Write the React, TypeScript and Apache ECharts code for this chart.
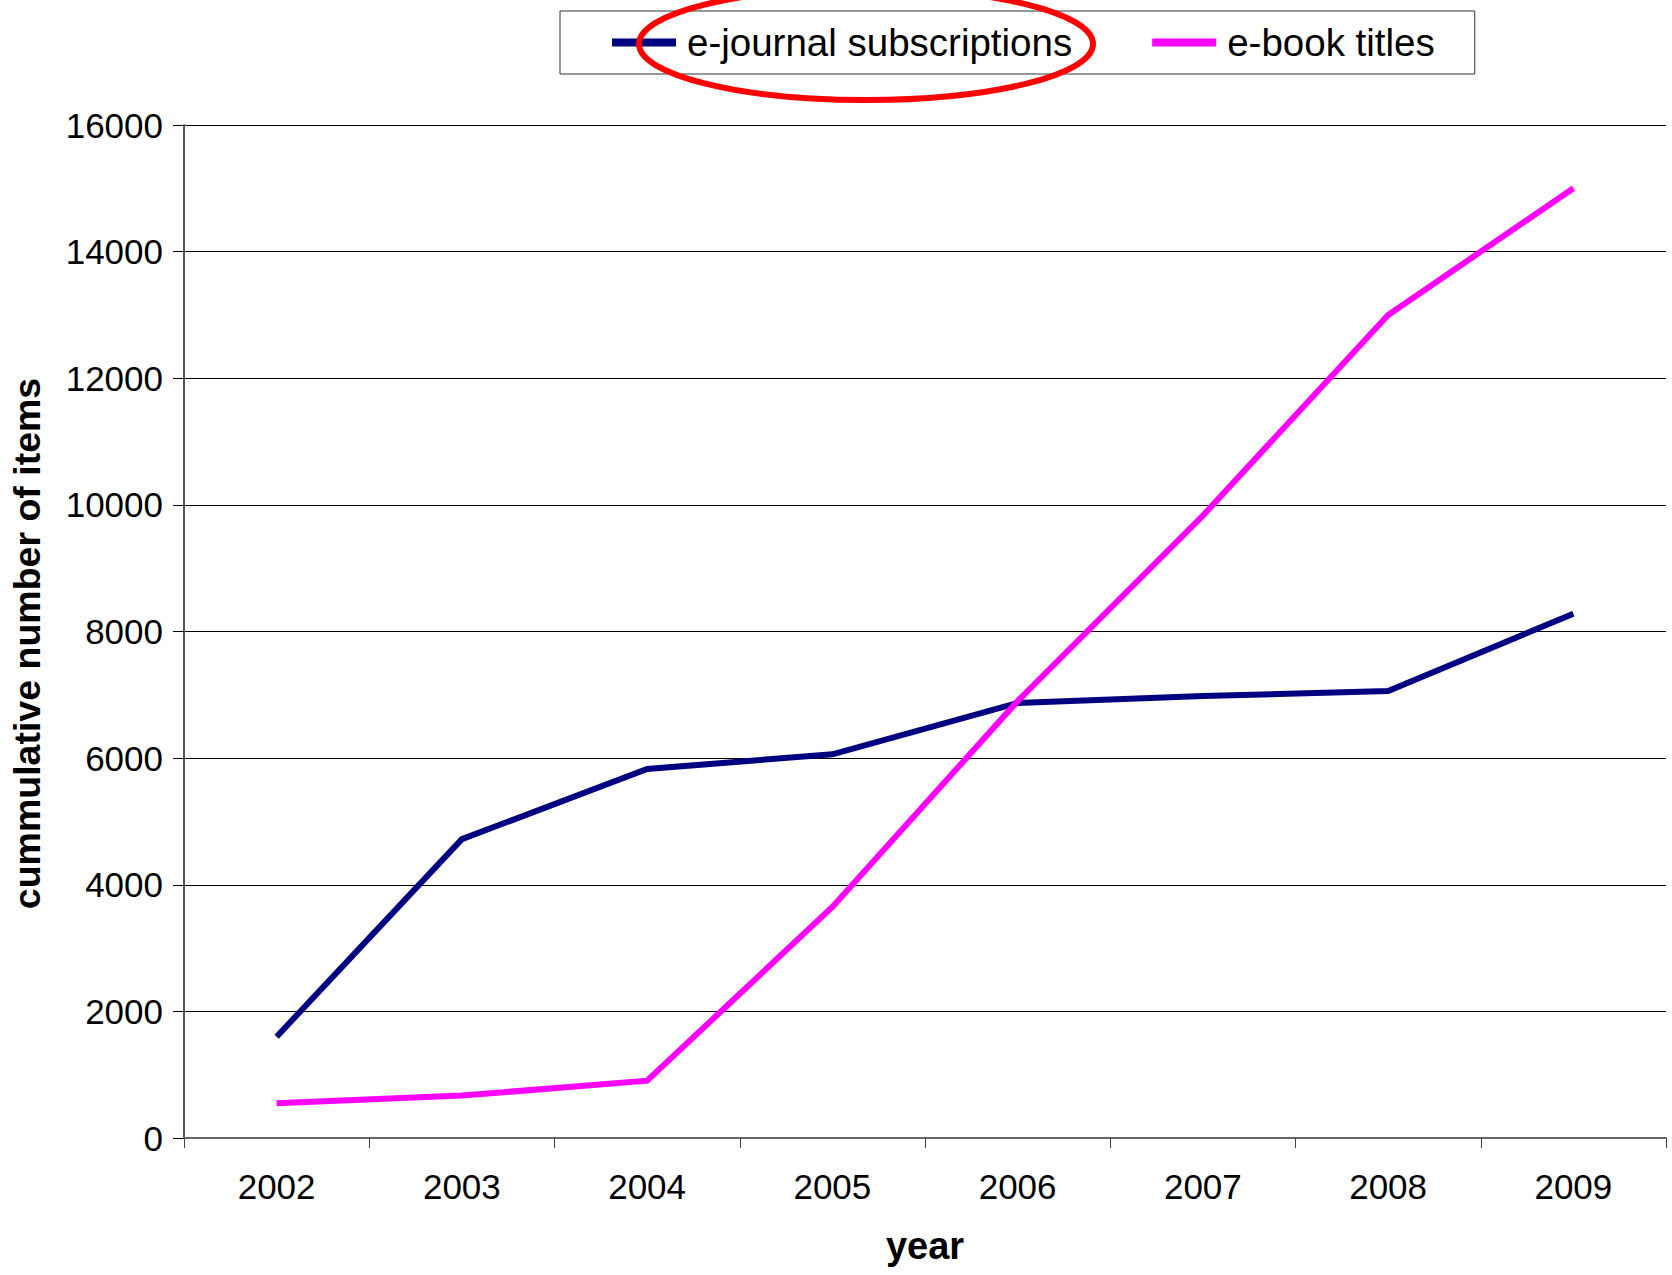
import React, { useEffect, useRef } from "react";
import * as echarts from "echarts";

const years = ["2002", "2003", "2004", "2005", "2006", "2007", "2008", "2009"];
const ejournalSubscriptions = [1600, 4720, 5830, 6060, 6870, 6980, 7060, 8280];
const ebookTitles = [550, 670, 905, 3650, 6900, 9830, 13000, 15000];
const seriesNames = ["e-journal subscriptions", "e-book titles"];
const yMin = 0;
const yMax = 16000;
const yInterval = 2000;

const FONT = "'Liberation Sans', Arial, sans-serif";

export default function App() {
  const ref = useRef<HTMLDivElement>(null);

  useEffect(() => {
    if (!ref.current) return;
    const chart = echarts.init(ref.current, undefined, { renderer: "svg" });
    chart.setOption({
      animation: false,
      backgroundColor: "#ffffff",
      textStyle: { fontFamily: FONT },
      grid: { left: 183, right: 6, top: 125, bottom: 137, containLabel: false },
      legend: {
        left: 560,
        top: 11,
        padding: [12, 40, 12, 52],
        itemGap: 80,
        itemWidth: 64,
        itemHeight: 8,
        borderColor: "#333",
        borderWidth: 1,
        textStyle: { fontSize: 38.5, color: "#000", fontFamily: FONT, padding: [0, 0, 0, 6] },
        data: [
          { name: seriesNames[0], icon: "rect", itemStyle: { color: "#000080" } },
          { name: seriesNames[1], icon: "rect", itemStyle: { color: "#ff00ff" } },
        ],
      },
      xAxis: {
        type: "category",
        data: years,
        boundaryGap: true,
        name: "year",
        nameLocation: "middle",
        nameGap: 89,
        nameTextStyle: { fontSize: 38, fontWeight: "bold", color: "#000", fontFamily: FONT },
        axisLine: { lineStyle: { color: "#666", width: 2 } },
        axisTick: { show: true, alignWithLabel: false, length: 10, lineStyle: { color: "#444", width: 1 } },
        axisLabel: { fontSize: 35, color: "#000", margin: 31, fontFamily: FONT },
        splitLine: { show: false },
      },
      yAxis: {
        type: "value",
        min: yMin,
        max: yMax,
        interval: yInterval,
        name: "cummulative number of items",
        nameLocation: "middle",
        nameRotate: 90,
        nameGap: 138,
        nameTextStyle: {
          fontSize: 37.5,
          fontWeight: "bold",
          color: "#000",
          fontFamily: FONT,
          padding: [0, 24, 0, 0],
        },
        axisLine: { show: true, lineStyle: { color: "#555", width: 2 } },
        axisTick: { show: true, length: 11, lineStyle: { color: "#000", width: 1 } },
        axisLabel: {
          fontSize: 35,
          color: "#000",
          margin: 21,
          fontFamily: FONT,
          formatter: (v: number) => String(v),
        },
        splitLine: { show: true, lineStyle: { color: "#000", width: 1 } },
      },
      series: [
        {
          name: seriesNames[0],
          type: "line",
          data: ejournalSubscriptions,
          showSymbol: false,
          symbol: "none",
          lineStyle: { color: "#000080", width: 6, join: "miter" },
          itemStyle: { color: "#000080" },
          z: 3,
        },
        {
          name: seriesNames[1],
          type: "line",
          data: ebookTitles,
          showSymbol: false,
          symbol: "none",
          lineStyle: { color: "#ff00ff", width: 6, join: "miter" },
          itemStyle: { color: "#ff00ff" },
          z: 4,
        },
      ],
      graphic: [
        {
          type: "ellipse",
          z: 100,
          silent: true,
          shape: { cx: 866, cy: 44, rx: 227, ry: 56 },
          style: { fill: "transparent", stroke: "#ff0000", lineWidth: 6 },
        },
      ],
    });
    return () => chart.dispose();
  }, []);

  return (
    <div
      ref={ref}
      style={{ position: "fixed", left: 0, top: 0, width: 1672, height: 1275, background: "#fff" }}
    />
  );
}
